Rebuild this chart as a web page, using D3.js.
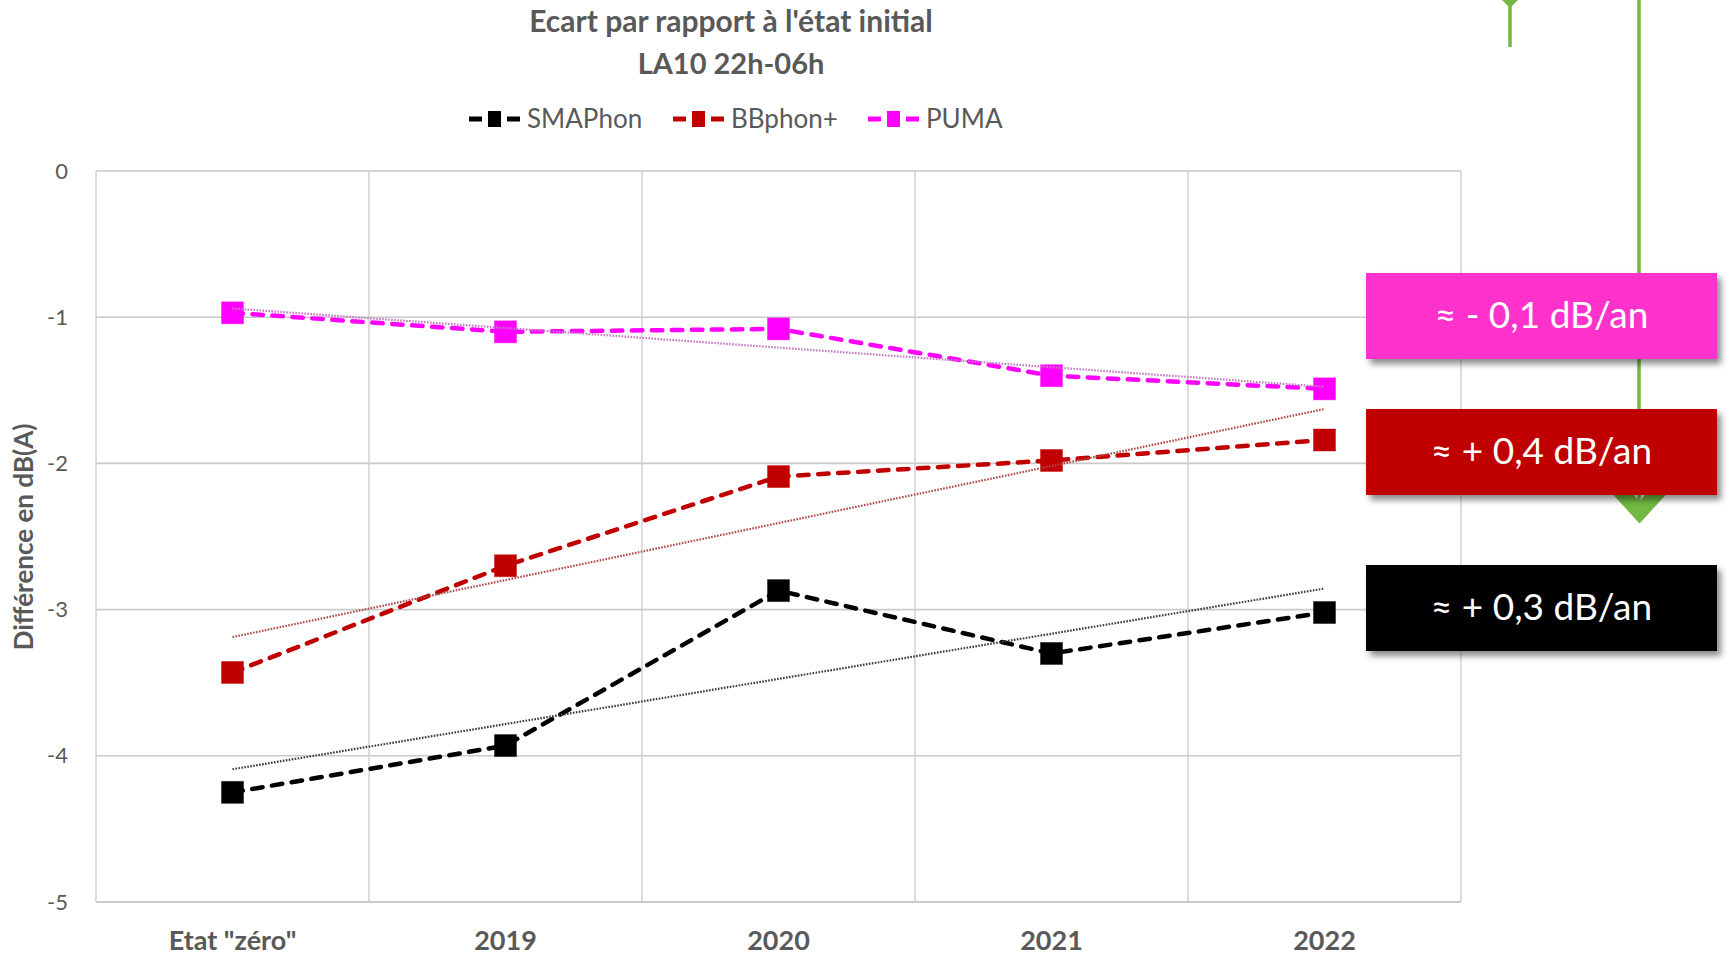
<!DOCTYPE html>
<html>
<head>
<meta charset="utf-8">
<script src="https://cdn.jsdelivr.net/npm/d3@7"></script>
<style>
body{margin:0;background:#fff;}
svg{display:block;font-family:Lato,"Open Sans",sans-serif;}
</style>
</head>
<body>
<div id="chart"></div>
<script>
// DONNEES
const categories = ['Etat "zéro"', "2019", "2020", "2021", "2022"];
const smaphon = [-4.25, -3.93, -2.87, -3.30, -3.02];
const bbphon = [-3.43, -2.70, -2.09, -1.98, -1.84];
const puma = [-0.97, -1.10, -1.08, -1.40, -1.49];
const yTicks = [0, -1, -2, -3, -4, -5];
const seriesNames = ["SMAPhon", "BBphon+", "PUMA"];
const seriesColors = ["#000000", "#c00000", "#ff00ff"];
const trendColors = ["#3a3a3a", "#b04848", "#c67ac6"];
const slopeLabels = ["≈ - 0,1 dB/an", "≈ + 0,4 dB/an", "≈ + 0,3 dB/an"];
const slopeColors = ["#ff33cc", "#c00000", "#000000"];

const width = 1729, height = 955;
const gris = "#595959";

const svg = d3.select("#chart").append("svg")
  .attr("width", width)
  .attr("height", height);

const defs = svg.append("defs");
const ombre = defs.append("filter").attr("id", "ombre")
  .attr("x", "-10%").attr("y", "-20%").attr("width", "130%").attr("height", "150%");
ombre.append("feDropShadow")
  .attr("dx", 4).attr("dy", 5).attr("stdDeviation", 3)
  .attr("flood-color", "#000").attr("flood-opacity", 0.45);

const x = d3.scaleBand().domain(categories).range([96, 1461]).padding(0);
const y = d3.scaleLinear().domain([-5, 0]).range([902, 171]);
const cx = d => x(d) + x.bandwidth() / 2;

// GRILLE
svg.append("g").selectAll("line").data(yTicks).enter().append("line")
  .attr("x1", 96).attr("x2", 1461)
  .attr("y1", d => y(d)).attr("y2", d => y(d))
  .attr("stroke", "#c9c9c9").attr("stroke-width", d => d === -5 ? 2.2 : 1.6);

const bords = categories.map(c => x(c)).concat([x.range()[1]]);
svg.append("g").selectAll("line").data(bords).enter().append("line")
  .attr("x1", d => d).attr("x2", d => d)
  .attr("y1", y(0)).attr("y2", y(-5))
  .attr("stroke", "#cfcfcf").attr("stroke-width", 1.4);

// AXES
const axeY = svg.append("g")
  .attr("transform", "translate(96,0)")
  .call(d3.axisLeft(y).tickValues(yTicks).tickSize(0).tickPadding(28).tickFormat(d => String(d)));
axeY.select(".domain").remove();
axeY.selectAll("text").attr("fill", gris).style("font-size", "22px").style("font-family", "Lato");

const axeX = svg.append("g")
  .attr("transform", "translate(0,902)")
  .call(d3.axisBottom(x).tickSize(0).tickPadding(29));
axeX.select(".domain").remove();
axeX.selectAll("text").attr("fill", gris).style("font-size", "27px")
  .style("font-weight", "bold").style("font-family", "Lato");

// ETIQUETTE Y
svg.append("text")
  .attr("transform", "translate(33,537) rotate(-90)")
  .attr("text-anchor", "middle")
  .attr("fill", gris)
  .style("font-size", "26px").style("font-weight", "bold")
  .text("Différence en dB(A)");

// TITRE
svg.append("text").attr("x", 731).attr("y", 32).attr("text-anchor", "middle")
  .attr("fill", gris).style("font-size", "30px").style("font-weight", "bold")
  .text("Ecart par rapport à l'état initial");
svg.append("text").attr("x", 731).attr("y", 74).attr("text-anchor", "middle")
  .attr("fill", gris).style("font-size", "29px").style("font-weight", "bold")
  .text("LA10 22h-06h");

// SERIES
const series = [smaphon, bbphon, puma].map((v, i) => ({
  nom: seriesNames[i],
  couleur: seriesColors[i],
  tendance: trendColors[i],
  points: categories.map((c, j) => ({ c, v: v[j] }))
}));

// régression linéaire pour la courbe de tendance
function tendance(points) {
  const n = points.length;
  const xs = points.map((p, i) => i);
  const mx = d3.mean(xs), my = d3.mean(points, p => p.v);
  const pente = d3.sum(xs, (xi, i) => (xi - mx) * (points[i].v - my)) / d3.sum(xs, xi => (xi - mx) ** 2);
  const b = my - pente * mx;
  return [{ c: categories[0], v: b }, { c: categories[n - 1], v: b + pente * (n - 1) }];
}

const ligne = d3.line().x(d => cx(d.c)).y(d => y(d.v));

series.forEach(s => {
  svg.append("path")
    .attr("d", ligne(s.points))
    .attr("fill", "none")
    .attr("stroke", s.couleur)
    .attr("stroke-width", 4.5)
    .attr("stroke-dasharray", "10.5,9.5")
    .attr("stroke-linecap", "round");
});

series.forEach(s => {
  svg.append("g").selectAll("rect").data(s.points).enter().append("rect")
    .attr("x", d => cx(d.c) - 11)
    .attr("y", d => y(d.v) - 11)
    .attr("width", 22).attr("height", 22)
    .attr("fill", s.couleur)
    .attr("stroke", s.couleur).attr("stroke-opacity", 0.4).attr("stroke-width", 1);
});

series.forEach(s => {
  svg.append("path")
    .attr("d", ligne(tendance(s.points)))
    .attr("fill", "none")
    .attr("stroke", s.tendance)
    .attr("stroke-width", 2.2)
    .attr("stroke-dasharray", "1.6,1.4");
});

// LEGENDE
const legX = [469, 673, 868];
const leg = svg.append("g").selectAll("g").data(series).enter().append("g")
  .attr("transform", (d, i) => `translate(${legX[i]},119)`);
leg.append("line").attr("x1", 0).attr("x2", 13).attr("stroke", d => d.couleur).attr("stroke-width", 5);
leg.append("line").attr("x1", 38).attr("x2", 51).attr("stroke", d => d.couleur).attr("stroke-width", 5);
leg.append("rect").attr("x", 19).attr("y", -8).attr("width", 13).attr("height", 16)
  .attr("fill", d => d.couleur);
leg.append("text").attr("x", 58).attr("y", 9)
  .attr("fill", gris).style("font-size", "26px")
  .text(d => d.nom);

// FLECHES VERTES
const vert = "#72b843";
svg.append("line").attr("x1", 1510).attr("x2", 1510).attr("y1", 0).attr("y2", 47)
  .attr("stroke", vert).attr("stroke-width", 3.5);
svg.append("path").attr("d", "M1499,-3 L1521,-3 L1510,8 Z").attr("fill", vert);

svg.append("line").attr("x1", 1639).attr("x2", 1639).attr("y1", 0).attr("y2", 508)
  .attr("stroke", vert).attr("stroke-width", 3.5);
svg.append("path")
  .attr("d", "M1612,492 L1630,492 L1639.5,503 L1649,492 L1667,492 L1639.5,522 Z")
  .attr("fill", vert).attr("stroke", vert).attr("stroke-width", 2).attr("stroke-linejoin", "round");

// ENCADRES PENTES
const boites = [{ y: 273 }, { y: 409 }, { y: 565 }];
const enc = svg.append("g").selectAll("g").data(boites).enter().append("g")
  .attr("transform", d => `translate(1366,${d.y})`);
enc.append("rect").attr("width", 351).attr("height", 86)
  .attr("fill", (d, i) => slopeColors[i]).attr("filter", "url(#ombre)");
enc.append("text").attr("x", 175.5).attr("y", 55)
  .attr("text-anchor", "middle").attr("fill", "#fff")
  .style("font-size", "37px")
  .text((d, i) => slopeLabels[i]);
</script>
</body>
</html>
